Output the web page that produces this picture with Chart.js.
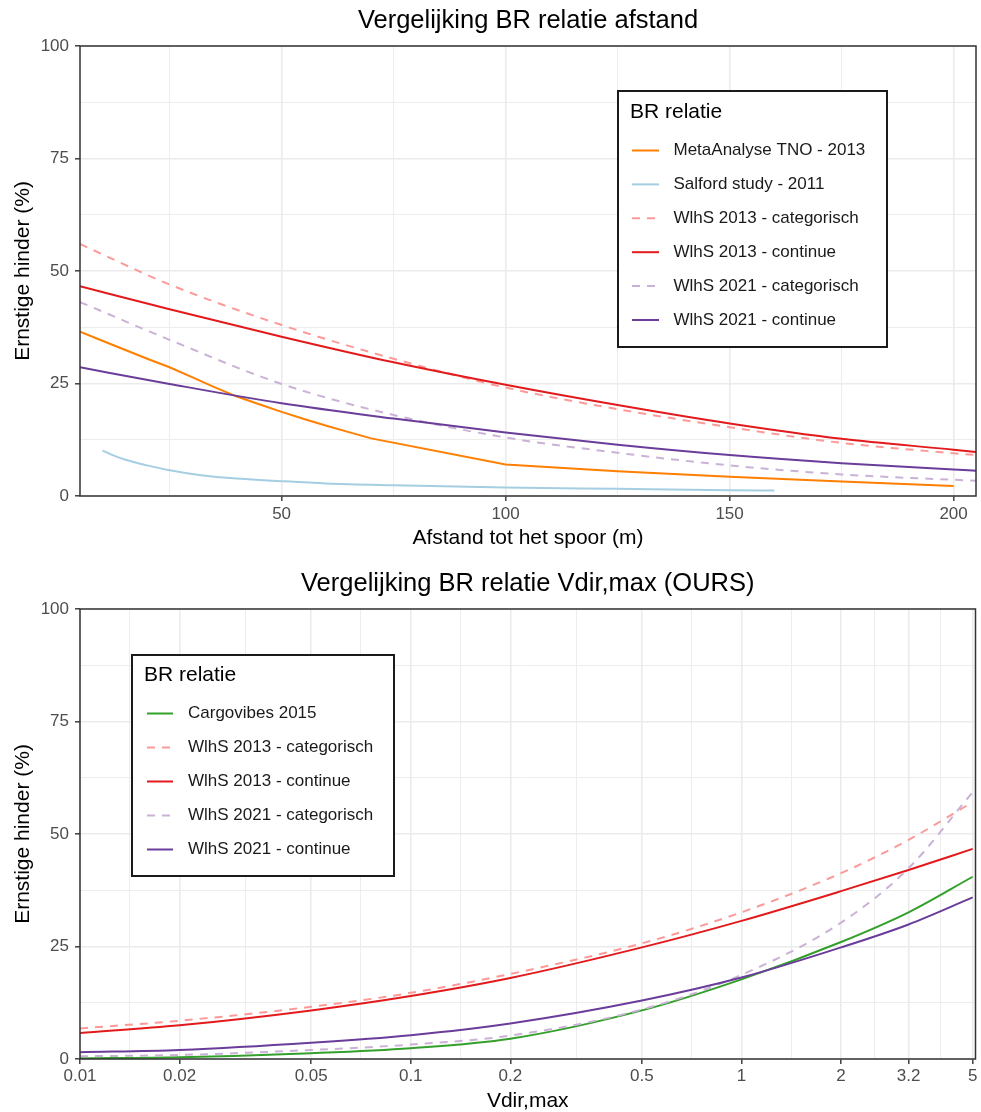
<!DOCTYPE html>
<html><head><meta charset="utf-8">
<script src="https://cdn.jsdelivr.net/npm/chart.js@4.4.1/dist/chart.umd.min.js"></script>
<style>
html,body{margin:0;padding:0;background:#fff;width:981px;height:1112px;overflow:hidden;}
#c1{position:absolute;left:0;top:0;}
#c2{position:absolute;left:0;top:560px;}
</style></head><body>
<canvas id="c1" width="981" height="560"></canvas>
<canvas id="c2" width="981" height="552"></canvas>
<script>
// ---------- data: chart 1 (afstand) ----------
const distX = [5, 25, 50, 75, 100, 125, 150, 175, 200, 205];
const wihs2013CatDist  = [56.0, 47.0, 38.0, 30.5, 24.1, 19.3, 15.3, 11.8, 9.5, 9.1];
const wihs2013ContDist = [46.6, 41.5, 35.4, 29.7, 24.7, 20.2, 16.1, 12.7, 10.3, 9.8];
const wihs2021CatDist  = [43.1, 34.7, 24.9, 18.0, 13.0, 9.6, 6.8, 4.8, 3.6, 3.4];
const wihs2021ContDist = [28.6, 24.9, 20.6, 17.2, 14.1, 11.4, 9.1, 7.3, 5.9, 5.6];
const metaX = [5, 10, 15, 20, 25, 30, 35, 40, 45, 50, 55, 60, 65, 70, 100, 125, 150, 175, 200];
const metaY = [36.5, 34.5, 32.5, 30.5, 28.6, 26.4, 24.2, 22.1, 20.4, 18.7, 17.1, 15.6, 14.2, 12.8, 7.0, 5.5, 4.3, 3.2, 2.2];
const salfordX = [10, 12, 15, 20, 25, 30, 35, 40, 50, 60, 75, 100, 125, 150, 160];
const salfordY = [10.1, 9.2, 8.1, 6.8, 5.7, 4.9, 4.3, 3.9, 3.3, 2.8, 2.4, 1.9, 1.6, 1.3, 1.2];
const distGrid  = [25, 50, 75, 100, 125, 150, 175, 200];
const distMajor = [50, 100, 150, 200];

// ---------- data: chart 2 (Vdir,max) ----------
const vdirX = [0.01, 0.02, 0.05, 0.1, 0.2, 0.5, 1, 2, 3.2, 5];
const cargovibes    = [0.15, 0.4, 1.3, 2.4, 4.5, 10.8, 17.7, 26.0, 32.6, 40.5];
const wihs2013CatV  = [6.8, 8.5, 11.6, 14.7, 18.9, 25.7, 32.6, 41.3, 48.7, 57.1];
const wihs2013ContV = [5.8, 7.5, 10.8, 14.0, 18.0, 24.8, 30.7, 37.3, 42.0, 46.7];
const wihs2021CatV  = [0.6, 0.9, 2.0, 3.2, 5.2, 11.0, 18.7, 30.3, 42.4, 59.3];
const wihs2021ContV = [1.5, 2.0, 3.6, 5.3, 7.9, 13.0, 18.1, 24.8, 29.9, 35.9];
const vdirMajor  = [0.01, 0.02, 0.05, 0.1, 0.2, 0.5, 1, 2, 3.2, 5];
const vdirLabels = ['0.01', '0.02', '0.05', '0.1', '0.2', '0.5', '1', '2', '3.2', '5'];

const yGrid  = [0, 12.5, 25, 37.5, 50, 62.5, 75, 87.5, 100];
const yMajor = [0, 25, 50, 75, 100];

// ---------- styling ----------
const FONT = "'Liberation Sans', Arial, Helvetica, sans-serif";
Chart.defaults.font.family = FONT;
const COL = {
  orange: '#FF7F00', lightblue: '#A6CEE3', pink: '#FB9A99', red: '#E31A1C',
  lavender: '#CAB2D6', purple: '#6A3D9A', green: '#33A02C'
};
const DASH = [8, 7];

function pts(xs, ys) { return xs.map((x, i) => ({x: x, y: ys[i]})); }
function isIn(arr, v) { return arr.some(a => Math.abs(a - v) < 1e-9); }

function lineDs(label, xs, ys, color, dashed, smooth, order) {
  return {
    label: label, data: pts(xs, ys), borderColor: color, backgroundColor: color,
    borderWidth: 2, borderDash: dashed ? DASH : [], pointRadius: 0, pointHoverRadius: 0,
    fill: false, tension: 0, cubicInterpolationMode: smooth ? 'monotone' : 'default',
    order: order
  };
}

const borderPlugin = {
  id: 'panelBorder',
  afterDatasetsDraw(chart) {
    const a = chart.chartArea, c = chart.ctx;
    c.save();
    c.strokeStyle = '#333333';
    c.lineWidth = 1.5;
    c.strokeRect(a.left, a.top, a.right - a.left, a.bottom - a.top);
    c.restore();
  }
};

const boxLegendPlugin = {
  id: 'boxLegend',
  afterDraw(chart, args, o) {
    const c = chart.ctx;
    c.save();
    c.fillStyle = '#ffffff';
    c.fillRect(o.x1, o.y1, o.x2 - o.x1, o.y2 - o.y1);
    c.strokeStyle = '#1a1a1a';
    c.lineWidth = 2;
    c.strokeRect(o.x1, o.y1, o.x2 - o.x1, o.y2 - o.y1);
    c.fillStyle = '#000000';
    c.textAlign = 'left';
    c.textBaseline = 'middle';
    c.font = '21px ' + FONT;
    c.fillText(o.title, o.titleX, o.titleY);
    c.font = '17px ' + FONT;
    chart.data.datasets.forEach((ds, k) => {
      const y = o.itemY0 + k * o.itemDY;
      c.beginPath();
      c.strokeStyle = ds.borderColor;
      c.lineWidth = ds.borderWidth;
      c.setLineDash(ds.borderDash || []);
      c.moveTo(o.lineX1, y);
      c.lineTo(o.lineX2, y);
      c.stroke();
      c.setLineDash([]);
      c.fillStyle = '#1a1a1a';
      c.fillText(ds.label, o.textX, y);
    });
    c.restore();
  }
};

function gridOpts(majorTest) {
  return {
    color: '#EBEBEB',
    lineWidth: ctx => (ctx.tick && majorTest(ctx.tick.value)) ? 1.6 : 0.9,
    drawTicks: true,
    tickLength: 5,
    tickWidth: 1.4,
    tickColor: ctx => (ctx.tick && majorTest(ctx.tick.value)) ? '#333333' : 'rgba(0,0,0,0)'
  };
}

function yAxis() {
  return {
    type: 'linear', min: 0, max: 100,
    afterBuildTicks: s => { s.ticks = yGrid.map(v => ({value: v})); },
    afterFit: s => { s.width = 80; },
    ticks: {
      autoSkip: false, padding: 6, color: '#4D4D4D', font: {size: 17},
      callback: v => isIn(yMajor, v) ? String(v) : ''
    },
    grid: gridOpts(v => isIn(yMajor, v)),
    border: {display: false},
    title: {display: true, text: 'Ernstige hinder (%)', color: '#000000',
            font: {size: 21, lineHeight: 1}, padding: {top: 12.5, bottom: 0}}
  };
}

// ---------- chart 1 ----------
new Chart(document.getElementById('c1'), {
  type: 'line',
  data: {
    datasets: [
      lineDs('MetaAnalyse TNO - 2013', metaX, metaY, COL.orange, false, false, 6),
      lineDs('Salford study - 2011', salfordX, salfordY, COL.lightblue, false, true, 5),
      lineDs('WlhS 2013 - categorisch', distX, wihs2013CatDist, COL.pink, true, true, 4),
      lineDs('WlhS 2013 - continue', distX, wihs2013ContDist, COL.red, false, true, 3),
      lineDs('WlhS 2021 - categorisch', distX, wihs2021CatDist, COL.lavender, true, true, 2),
      lineDs('WlhS 2021 - continue', distX, wihs2021ContDist, COL.purple, false, true, 1)
    ]
  },
  options: {
    responsive: false, maintainAspectRatio: false, animation: false, devicePixelRatio: 1,
    layout: {padding: {left: 0, right: 5, top: 0, bottom: 0}},
    plugins: {
      legend: {display: false},
      tooltip: {enabled: false},
      title: {display: true, fullSize: false, text: 'Vergelijking BR relatie afstand', color: '#000000',
              font: {size: 25.5, weight: 'normal', lineHeight: 1.2}, padding: {top: 5.7, bottom: 9.7}},
      boxLegend: {x1: 618, y1: 91, x2: 887, y2: 347, title: 'BR relatie', titleX: 630, titleY: 112.5,
                  itemY0: 150.5, itemDY: 33.9, lineX1: 632, lineX2: 659, textX: 673.5}
    },
    scales: {
      x: {
        type: 'linear', min: 5, max: 205,
        afterBuildTicks: s => { s.ticks = distGrid.map(v => ({value: v})); },
        afterFit: s => { s.height = 64; },
        ticks: {autoSkip: false, maxRotation: 0, padding: 3, color: '#4D4D4D', font: {size: 17},
                callback: v => isIn(distMajor, v) ? String(v) : ''},
        grid: gridOpts(v => isIn(distMajor, v)),
        border: {display: false},
        title: {display: true, text: 'Afstand tot het spoor (m)', color: '#000000',
                font: {size: 21, lineHeight: 1}, padding: {top: 0, bottom: 11.5}}
      },
      y: yAxis()
    }
  },
  plugins: [borderPlugin, boxLegendPlugin]
});

// ---------- chart 2 ----------
const vdirMinor = vdirMajor.slice(1).map((v, i) => Math.sqrt(v * vdirMajor[i]));
const vdirGrid = vdirMajor.concat(vdirMinor).sort((a, b) => a - b);

new Chart(document.getElementById('c2'), {
  type: 'line',
  data: {
    datasets: [
      lineDs('Cargovibes 2015', vdirX, cargovibes, COL.green, false, true, 5),
      lineDs('WlhS 2013 - categorisch', vdirX, wihs2013CatV, COL.pink, true, true, 4),
      lineDs('WlhS 2013 - continue', vdirX, wihs2013ContV, COL.red, false, true, 3),
      lineDs('WlhS 2021 - categorisch', vdirX, wihs2021CatV, COL.lavender, true, true, 2),
      lineDs('WlhS 2021 - continue', vdirX, wihs2021ContV, COL.purple, false, true, 1)
    ]
  },
  options: {
    responsive: false, maintainAspectRatio: false, animation: false, devicePixelRatio: 1,
    layout: {padding: {left: 0, right: 5.5, top: 0, bottom: 0}},
    plugins: {
      legend: {display: false},
      tooltip: {enabled: false},
      title: {display: true, fullSize: false, text: 'Vergelijking BR relatie Vdir,max (OURS)', color: '#000000',
              font: {size: 25.5, weight: 'normal', lineHeight: 1.2}, padding: {top: 8.7, bottom: 9.7}},
      boxLegend: {x1: 132, y1: 95, x2: 394, y2: 316, title: 'BR relatie', titleX: 144, titleY: 115.5,
                  itemY0: 153.5, itemDY: 34, lineX1: 147, lineX2: 173, textX: 188}
    },
    scales: {
      x: {
        type: 'logarithmic', min: 0.01, max: 5.1,
        afterBuildTicks: s => { s.ticks = vdirGrid.map(v => ({value: v})); },
        afterFit: s => { s.height = 53; },
        ticks: {autoSkip: false, maxRotation: 0, padding: 2, color: '#4D4D4D', font: {size: 17},
                callback: function (v) {
                  const k = vdirMajor.findIndex(m => Math.abs(m - v) < 1e-9);
                  return k >= 0 ? vdirLabels[k] : '';
                }},
        grid: gridOpts(v => isIn(vdirMajor, v)),
        border: {display: false},
        title: {display: true, text: 'Vdir,max', color: '#000000',
                font: {size: 21, lineHeight: 1}, padding: {top: 0, bottom: 0}}
      },
      y: yAxis()
    }
  },
  plugins: [borderPlugin, boxLegendPlugin]
});
</script>
</body></html>
